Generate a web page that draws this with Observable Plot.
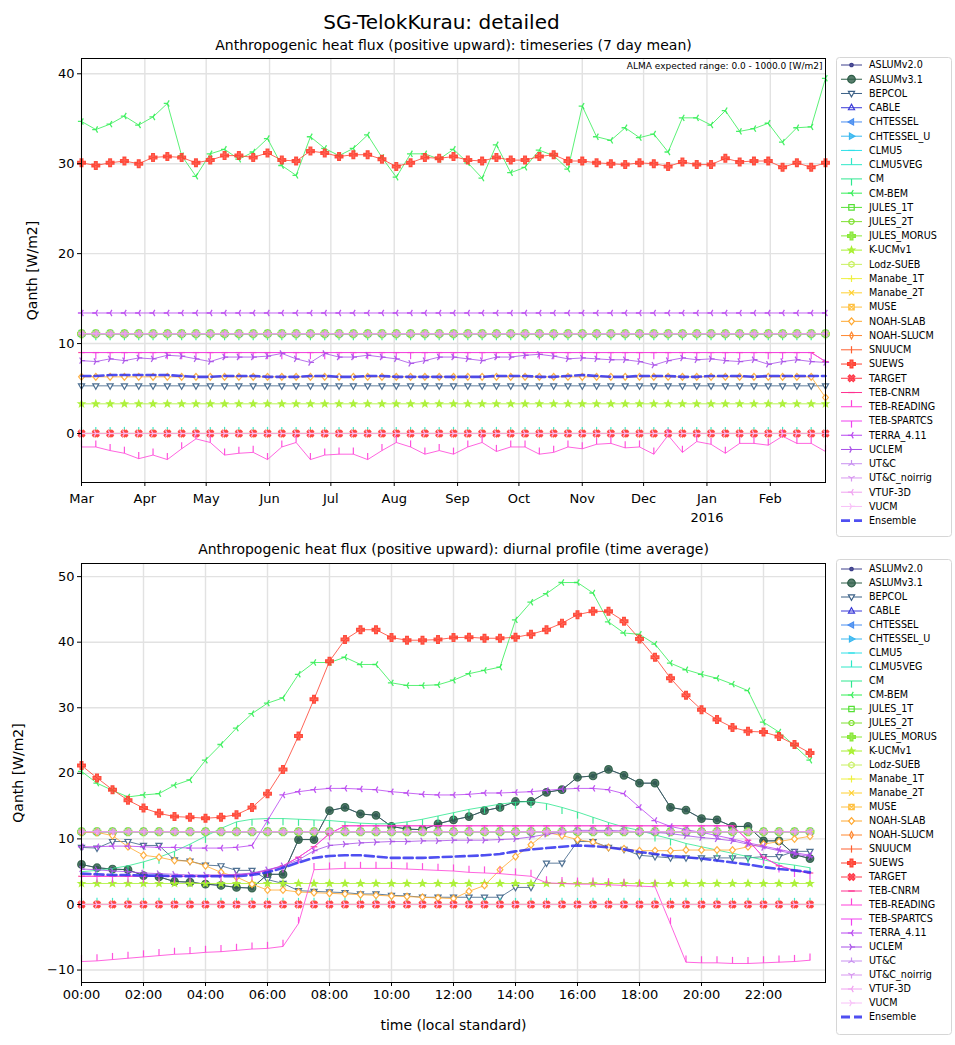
<!DOCTYPE html>
<html><head><meta charset="utf-8">
<script src="https://cdn.jsdelivr.net/npm/d3@7"></script>
<script src="https://cdn.jsdelivr.net/npm/@observablehq/plot@0.6"></script>
<style>
body{margin:0;background:#fff;font-family:"DejaVu Sans",sans-serif;}
#root{position:relative;width:955px;height:1045px;overflow:hidden;background:#fff;}
#root > *{position:absolute;}
</style></head><body><div id="root"></div>
<script>
// ---------------- DATA ----------------
const MODELS = ["ASLUMv2.0","ASLUMv3.1","BEPCOL","CABLE","CHTESSEL","CHTESSEL_U","CLMU5","CLMU5VEG","CM","CM-BEM","JULES_1T","JULES_2T","JULES_MORUS","K-UCMv1","Lodz-SUEB","Manabe_1T","Manabe_2T","MUSE","NOAH-SLAB","NOAH-SLUCM","SNUUCM","SUEWS","TARGET","TEB-CNRM","TEB-READING","TEB-SPARTCS","TERRA_4.11","UCLEM","UT&C","UT&C_noirrig","VTUF-3D","VUCM"];
const ENSEMBLE_NAME = "Ensemble";
const MONTH_LABELS = ["Mar","Apr","May","Jun","Jul","Aug","Sep","Oct","Nov","Dec","Jan\n2016","Feb"];
const TOP_YTICKS = [0,10,20,30,40];
const DIU_YTICKS = [-10,0,10,20,30,40,50];
const HOUR_TICKS = [0,2,4,6,8,10,12,14,16,18,20,22];

// constant (flat) levels per model; null = absent or varying
const TOP_LEVEL = [null,null,5.3,11.1,11.1,11.1,0,0,11.1,null,11.1,11.1,11.1,3.3,11.1,11.1,0,0,null,0,0,null,0,null,null,null,13.4,null,11.1,11.1,11.1,0];
const DIU_LEVEL = [null,null,null,11.1,11.1,11.1,0,0,null,null,11.1,11.1,11.1,3.2,11.1,11.1,0,0,null,0,0,null,0,null,null,null,null,null,11.1,11.1,11.1,0];

// weekly (7-day mean) timeseries, 53 weeks from 2015-03-01
const TOP_CM_BEM = [34.7,33.8,34.4,35.3,34.3,35.2,36.7,30.9,28.6,31.1,31.6,30.5,31.3,32.8,29.8,28.7,33.0,31.7,30.9,31.7,33.2,30.7,28.5,31.1,31.1,30.5,31.6,
  30.1,28.4,32.1,29.0,29.6,31.5,30.9,29.4,36.4,33.0,32.6,34.0,32.9,33.3,31.3,35.1,35.1,34.3,35.9,33.6,33.9,34.5,32.4,34.0,34.1,39.5];
const TOP_SUEWS = [30.1,29.8,30.1,30.3,30.0,30.7,30.8,30.7,30.1,30.4,30.9,30.9,30.7,31.2,30.4,30.3,31.4,31.2,30.8,31.0,31.0,30.5,29.7,30.1,30.7,30.6,30.8,
  30.4,30.3,30.7,30.4,30.4,30.8,31.0,30.3,30.3,30.1,30.0,29.9,30.1,30.0,29.7,30.2,29.9,29.9,30.6,30.2,30.3,30.3,29.6,30.1,29.6,30.1];
const TOP_TEB_READING = [-1.5,-1.5,-1.9,-2.2,-2.8,-2.4,-2.9,-1.7,-0.6,-1.0,-2.4,-2.2,-2.1,-2.9,-1.5,-1.0,-2.9,-2.4,-2.3,-2.3,-2.9,-1.9,-1.0,-1.5,-2.3,-1.9,-2.3,
  -1.5,-1.0,-2.0,-1.5,-1.5,-2.3,-2.1,-1.5,-1.7,-1.2,-1.1,-1.6,-1.5,-2.3,-0.2,-2.1,-0.9,-1.2,-2.2,-1.1,-1.1,-1.3,-0.3,-1.1,-1.1,-2.0];
const TOP_UCLEM = [8.1,8.0,8.3,8.1,8.4,8.3,8.7,8.6,8.3,8.0,8.5,8.5,8.5,8.6,8.9,8.3,7.9,8.9,8.5,8.5,8.7,8.5,8.3,7.8,8.1,8.5,8.5,
  8.3,8.1,8.5,8.5,8.7,8.8,8.6,8.3,8.4,8.3,8.2,8.2,8.0,7.6,8.1,8.4,8.2,8.3,8.1,8.0,8.2,7.7,8.0,8.2,8.0,7.9];
const TOP_TEB_CNRM = [9.0,9.0,9.0,9.0,9.0,9.0,9.0,9.0,9.0,9.0,9.0,9.0,9.0,9.0,9.0,9.0,9.0,9.0,9.0,9.0,9.0,9.0,9.0,9.0,9.0,9.0,9.0,
  9.0,9.0,9.0,9.0,9.0,9.0,9.0,9.0,9.0,9.0,9.0,9.0,9.0,9.0,9.0,9.0,9.0,9.0,9.0,9.0,9.0,9.0,9.0,9.0,9.0,8.0];
const TOP_NOAH_SLAB = [6.3,6.3,6.3,6.3,6.3,6.3,6.3,6.3,6.3,6.3,6.3,6.3,6.3,6.3,6.3,6.3,6.3,6.3,6.3,6.3,6.3,6.3,6.3,6.3,6.3,6.3,6.3,
  6.3,6.3,6.3,6.3,6.3,6.3,6.3,6.3,6.3,6.3,6.3,6.3,6.3,6.3,6.3,6.3,6.3,6.3,6.3,6.3,6.3,6.3,6.3,6.3,6.3,4.0];
const TOP_ENSEMBLE = [6.4,6.4,6.5,6.5,6.5,6.5,6.5,6.4,6.3,6.3,6.4,6.4,6.4,6.3,6.3,6.3,6.4,6.4,6.3,6.3,6.4,6.4,6.3,6.3,6.3,6.3,6.3,
  6.3,6.3,6.4,6.4,6.4,6.3,6.3,6.4,6.5,6.4,6.3,6.3,6.4,6.4,6.4,6.3,6.3,6.4,6.4,6.4,6.3,6.4,6.4,6.4,6.4,6.4];

// diurnal profile, 48 half-hours from 00:00
const DIU_ASLUM = [6.1,5.6,5.4,5.3,4.4,4.2,3.5,3.4,3.1,2.9,2.6,2.5,4.6,4.6,9.9,9.9,14.3,14.8,13.8,13.6,11.9,11.5,11.4,12.3,
  12.9,13.4,14.3,14.8,15.7,15.7,17.1,17.5,19.4,19.6,20.6,19.7,18.5,18.5,14.8,14.4,13.1,12.9,11.9,11.9,9.7,9.7,7.6,7.0];
const DIU_BEPCOL = [8.7,8.6,9.6,9.6,9.0,9.0,6.8,6.6,6.0,5.9,5.2,5.2,3.8,3.2,2.1,2.0,1.9,1.8,1.6,1.6,1.4,1.3,1.1,1.1,
  1.1,1.1,1.1,1.1,2.6,2.6,6.3,6.3,9.6,9.6,8.7,8.4,7.5,7.3,7.1,7.1,7.1,7.1,7.1,7.1,7.3,7.3,8.1,8.1];
const DIU_CM = [5.0,5.2,5.5,5.9,6.5,7.2,8.1,9.2,10.4,11.6,12.6,13.0,13.1,13.1,13.0,12.9,12.8,12.6,12.4,12.3,12.3,12.6,13.0,13.5,
  14.0,14.5,14.9,15.3,15.6,15.7,15.4,14.8,14.1,13.3,12.5,11.8,11.3,10.6,10.0,9.3,8.8,8.3,7.8,7.3,6.8,6.3,6.0,5.6];
const DIU_CM_BEM = [20.3,18.5,17.4,16.4,16.7,16.9,18.2,19.0,22.0,24.4,26.9,29.1,30.7,31.5,35.1,36.9,36.9,37.7,36.6,36.6,33.8,33.4,33.4,33.5,
  34.2,35.2,35.7,36.2,43.4,46.1,47.4,49.1,49.1,47.5,43.1,41.4,41.2,39.7,36.8,35.8,35.1,34.5,33.6,32.6,27.8,26.3,24.2,22.0];
const DIU_NOAH_SLAB = [11.0,11.0,10.5,8.8,7.5,7.2,6.7,6.6,5.9,4.9,4.2,3.1,2.2,2.2,1.9,1.8,1.7,1.6,1.5,1.4,1.3,1.2,1.1,1.0,
  0.9,2.0,2.9,5.3,7.3,9.1,11.0,10.5,9.9,9.5,8.7,8.5,8.2,8.2,8.2,8.3,8.3,8.3,8.3,8.8,9.2,9.6,10.0,10.4];
const DIU_SUEWS = [21.2,19.3,17.5,15.9,14.7,13.9,13.4,13.3,13.15,13.3,13.7,14.8,16.9,20.6,25.7,31.3,37.1,40.4,41.9,41.9,40.7,40.3,40.3,40.4,
  40.7,40.75,40.6,40.6,40.75,41.2,41.9,42.9,44.2,44.7,44.7,43.2,40.5,37.7,34.5,31.9,29.7,28.2,27.0,26.4,26.3,25.6,24.4,23.1];
const DIU_TEB_CNRM = [4.3,4.3,4.3,4.3,4.3,4.3,4.3,4.3,4.3,4.4,4.5,4.7,5.2,5.9,7.2,8.8,10.8,12.0,12.0,12.0,12.0,12.0,12.0,12.0,
  12.0,12.0,12.0,12.0,12.0,12.0,12.0,12.0,12.0,12.0,12.0,12.0,12.0,12.0,12.0,12.0,12.0,12.0,12.0,9.8,7.2,5.9,5.2,4.8];
const DIU_TEB_READING = [-8.7,-8.6,-8.4,-8.2,-8.0,-7.8,-7.6,-7.5,-7.3,-7.2,-7.0,-6.8,-6.7,-6.4,-2.9,5.3,5.4,5.5,5.5,5.5,5.5,5.4,5.3,5.2,
  5.1,4.9,4.8,4.7,4.5,4.3,3.3,3.2,3.1,3.1,3.0,2.9,2.8,2.7,-3.0,-8.8,-8.9,-8.9,-9.0,-9.0,-8.9,-8.8,-8.7,-8.5];
const DIU_TERRA = [8.8,8.8,8.9,8.9,8.8,8.7,8.7,8.6,8.6,8.6,8.7,9.0,12.8,16.7,17.2,17.5,17.7,17.7,17.6,17.5,17.2,17.0,16.8,16.7,
  16.7,16.8,17.0,17.0,17.1,17.2,17.4,17.6,17.7,17.7,17.5,16.9,14.8,12.8,11.9,11.4,11.0,10.5,10.0,9.4,8.9,8.4,7.9,7.5];
const DIU_UCLEM = [5.4,5.3,5.1,5.0,4.8,4.7,4.6,4.5,4.5,4.5,4.6,4.8,5.3,5.9,6.8,8.2,9.0,9.2,9.4,9.5,9.6,9.6,9.7,9.7,
  9.8,9.8,9.8,9.9,10.0,10.3,10.7,11.0,11.3,11.3,11.3,11.2,11.1,11.0,10.8,10.5,10.2,10.0,9.7,9.2,8.7,8.2,7.7,7.3];
const DIU_ENSEMBLE = [4.7,4.6,4.5,4.5,4.4,4.4,4.3,4.3,4.3,4.3,4.3,4.5,4.9,5.6,6.4,7.1,7.4,7.5,7.5,7.3,7.1,7.1,7.1,7.2,
  7.3,7.4,7.5,7.7,8.1,8.4,8.6,8.8,9.0,8.9,8.7,8.4,8.0,7.7,7.4,7.2,7.0,6.7,6.4,6.1,5.7,5.4,5.2,4.9];

// ---------------- STYLES ----------------
const COLORS = ["#3d3f8c","#2e5e48","#3b6086","#3a3ad8","#4a8ef0","#3ab8f0","#2ee0e8","#2ee8c8","#2ee890","#33ee55","#55e035","#7ee030","#88e838","#a8f030","#c8f060","#eef040","#ffd030","#ffc040","#ffa830","#ff8830","#ff6030","#ff4030","#ff3848","#ff3090","#ff40d8","#f040f0","#b844f0","#a850e8","#c890f0","#d898f0","#f0a0f0","#f8c0f8"];
const ENSEMBLE_COLOR = "#3030ee";
const MARKER = ["point","circle","triDown","triUp","triLeft","triRight","hline","tickUp","tickDown","spokeLeft","square","octagon","plusFill","star","hexagon","plus","cross","squareX","diamond","thinDiamond","vline","plusFill","xFill","hline","tickUp","tickDown","spokeLeft","spokeRight","spokeUp","spokeDown","spokeLeft","spokeRight"];
const FILLMODE = ["solid","solid","white","none","solid","solid","none","none","none","none","none","none","solid","solid","none","none","none","none","white","none","none","solid","solid","none","none","none","none","none","none","none","none","none"];

function mk(f){return {draw(c,size){const r=Math.sqrt(size/Math.PI); f(c,r);}};}
function poly(c,p){c.moveTo(p[0][0],p[0][1]);for(let i=1;i<p.length;i++)c.lineTo(p[i][0],p[i][1]);c.closePath();}
function spokes(c,p){for(const q of p){c.moveTo(0,0);c.lineTo(q[0],q[1]);}}
const SYM = {
  point: mk((c,r)=>{const q=r*0.5;c.moveTo(q,0);c.arc(0,0,q,0,2*Math.PI);}),
  circle: mk((c,r)=>{c.moveTo(r,0);c.arc(0,0,r,0,2*Math.PI);}),
  triDown: mk((c,r)=>poly(c,[[0,r],[-0.9*r,-0.6*r],[0.9*r,-0.6*r]])),
  triUp: mk((c,r)=>poly(c,[[0,-r],[-0.9*r,0.6*r],[0.9*r,0.6*r]])),
  triLeft: mk((c,r)=>poly(c,[[-r,0],[0.6*r,-0.9*r],[0.6*r,0.9*r]])),
  triRight: mk((c,r)=>poly(c,[[r,0],[-0.6*r,-0.9*r],[-0.6*r,0.9*r]])),
  hline: mk((c,r)=>{c.moveTo(-r,0);c.lineTo(r,0);}),
  vline: mk((c,r)=>{c.moveTo(0,-r);c.lineTo(0,r);}),
  tickUp: mk((c,r)=>{c.moveTo(0,0);c.lineTo(0,-2*r);}),
  tickDown: mk((c,r)=>{c.moveTo(0,0);c.lineTo(0,2*r);}),
  spokeLeft: mk((c,r)=>spokes(c,[[-r,0],[0.5*r,-0.87*r],[0.5*r,0.87*r]])),
  spokeRight: mk((c,r)=>spokes(c,[[r,0],[-0.5*r,-0.87*r],[-0.5*r,0.87*r]])),
  spokeUp: mk((c,r)=>spokes(c,[[0,-r],[-0.87*r,0.5*r],[0.87*r,0.5*r]])),
  spokeDown: mk((c,r)=>spokes(c,[[0,r],[-0.87*r,-0.5*r],[0.87*r,-0.5*r]])),
  square: mk((c,r)=>{const q=r*0.8;c.rect(-q,-q,2*q,2*q);}),
  squareX: mk((c,r)=>{const q=r*0.8;c.rect(-q,-q,2*q,2*q);c.moveTo(-q,-q);c.lineTo(q,q);c.moveTo(q,-q);c.lineTo(-q,q);}),
  octagon: mk((c,r)=>poly(c,d3.range(8).map(i=>{const a=Math.PI/8+i*Math.PI/4;return [r*0.9*Math.cos(a),r*0.9*Math.sin(a)];}))),
  hexagon: mk((c,r)=>poly(c,d3.range(6).map(i=>{const a=-Math.PI/2+i*Math.PI/3;return [r*Math.cos(a),r*Math.sin(a)];}))),
  star: mk((c,r)=>poly(c,d3.range(10).map(i=>{const a=-Math.PI/2+i*Math.PI/5, q=i%2?0.42*r:r;return [q*Math.cos(a),q*Math.sin(a)];}))),
  plusFill: mk((c,r)=>{const w=0.36*r;poly(c,[[-w,-r],[w,-r],[w,-w],[r,-w],[r,w],[w,w],[w,r],[-w,r],[-w,w],[-r,w],[-r,-w],[-w,-w]]);}),
  xFill: mk((c,r)=>{const w=0.3*r,s=Math.SQRT1_2;const pts=[[-w,-r],[w,-r],[w,-w],[r,-w],[r,w],[w,w],[w,r],[-w,r],[-w,w],[-r,w],[-r,-w],[-w,-w]].map(([x,y])=>[(x-y)*s,(x+y)*s]);poly(c,pts);}),
  plus: mk((c,r)=>{c.moveTo(-r,0);c.lineTo(r,0);c.moveTo(0,-r);c.lineTo(0,r);}),
  cross: mk((c,r)=>{const q=r*0.75;c.moveTo(-q,-q);c.lineTo(q,q);c.moveTo(q,-q);c.lineTo(-q,q);}),
  diamond: mk((c,r)=>poly(c,[[0,-r],[r*0.85,0],[0,r],[-r*0.85,0]])),
  thinDiamond: mk((c,r)=>poly(c,[[0,-r],[r*0.55,0],[0,r],[-r*0.55,0]]))
};
const RADIUS = {point:3.4,circle:3.8,spokeLeft:3.6,spokeRight:3.6,spokeUp:3.6,spokeDown:3.6,tickUp:3.3,tickDown:3.3,hline:3.3,vline:3.6,plusFill:3.9,octagon:3.0,hexagon:3.0,xFill:3.6};
function fillOf(k){const f=FILLMODE[k];return f==="solid"?COLORS[k]:f==="white"?"white":"none";}

function modelMarks(rows,k){
  const m=MARKER[k];
  return [
    Plot.line(rows,{x:"x",y:"y",stroke:COLORS[k],strokeWidth:0.9,strokeOpacity:0.9}),
    Plot.dot(rows,{x:"x",y:"y",symbol:SYM[m],r:RADIUS[m]||3.4,stroke:COLORS[k],strokeWidth:m.startsWith("spoke")?1.3:1.2,fill:fillOf(k),fillOpacity:FILLMODE[k]==="solid"?0.8:1,strokeOpacity:0.9})
  ];
}

// ---------------- TOP PANEL ----------------
const WEEK0 = Date.UTC(2015,2,1);
const WEEKS = d3.range(TOP_SUEWS.length).map(i=>new Date(WEEK0+i*7*864e5));
const MONTHS = d3.utcMonths(new Date(Date.UTC(2015,2,1)), new Date(Date.UTC(2016,1,2)));
const TOP_SERIES = new Map([[9,TOP_CM_BEM],[18,TOP_NOAH_SLAB],[21,TOP_SUEWS],[23,TOP_TEB_CNRM],[24,TOP_TEB_READING],[25,TOP_TEB_CNRM],[27,TOP_UCLEM]]);
const DIU_SERIES = new Map([[0,DIU_ASLUM],[1,DIU_ASLUM],[2,DIU_BEPCOL],[8,DIU_CM],[9,DIU_CM_BEM],[18,DIU_NOAH_SLAB],[21,DIU_SUEWS],[23,DIU_TEB_CNRM],[24,DIU_TEB_READING],[25,DIU_TEB_CNRM],[26,DIU_TERRA],[27,DIU_UCLEM]]);

function rowsFor(k,xs,series,levels){
  if(series.has(k)) return series.get(k).map((v,i)=>({x:xs[i],y:v}));
  if(levels[k]!=null) return xs.map(x=>({x,y:levels[k]}));
  return null;
}
const minusFmt = d => d<0 ? "\u2212"+Math.abs(d) : String(d);
const gridStyle = {stroke:"#e2e2e2",strokeOpacity:1,strokeWidth:1.4};

function panelMarks(xs,series,levels,ensemble){
  const out=[];
  MODELS.forEach((name,k)=>{const rows=rowsFor(k,xs,series,levels); if(rows) out.push(...modelMarks(rows,k));});
  out.push(Plot.line(ensemble.map((v,i)=>({x:xs[i],y:v})),{x:"x",y:"y",stroke:ENSEMBLE_COLOR,strokeWidth:2.6,strokeDasharray:"9,4",strokeOpacity:0.85}));
  return out;
}

const topPlot = Plot.plot({
  width:830, height:525, marginLeft:81, marginRight:5, marginTop:58, marginBottom:43,
  style:{fontFamily:"DejaVu Sans, sans-serif",fontSize:"13px",background:"transparent",overflow:"visible"},
  x:{type:"utc",domain:[WEEKS[0],WEEKS[WEEKS.length-1]],label:null},
  y:{domain:[-5.45,41.7],label:null},
  marks:[
    Plot.gridX(MONTHS,gridStyle),
    Plot.gridY(TOP_YTICKS,gridStyle),
    ...panelMarks(WEEKS,TOP_SERIES,TOP_LEVEL,TOP_ENSEMBLE),
    Plot.frame({stroke:"#000",strokeWidth:1}),
    Plot.axisX(MONTHS,{tickFormat:(d,i)=>MONTH_LABELS[i],tickSize:4,tickPadding:3,fontSize:13,label:null,lineHeight:1.45}),
    Plot.axisY(TOP_YTICKS,{tickFormat:minusFmt,tickSize:4,tickPadding:3,fontSize:13,label:null}),
    Plot.text(["SG-TelokKurau: detailed"],{text:d=>d,frameAnchor:"top",dy:-36,dx:-12,fontSize:20,lineAnchor:"middle"}),
    Plot.text(["Anthropogenic heat flux (positive upward): timeseries (7 day mean)"],{text:d=>d,frameAnchor:"top",dy:-13,fontSize:14,lineAnchor:"middle"}),
    Plot.text(["ALMA expected range: 0.0 - 1000.0 [W/m2]"],{text:d=>d,frameAnchor:"top-right",dx:-3,dy:8,fontSize:9,textAnchor:"end",lineAnchor:"middle"}),
    Plot.text(["Qanth [W/m2]"],{text:d=>d,frameAnchor:"left",dx:-49,rotate:-90,fontSize:14,lineAnchor:"middle",textAnchor:"middle"})
  ]
});
topPlot.style.left="0px"; topPlot.style.top="0px";

// ---------------- BOTTOM PANEL ----------------
const HOURS = d3.range(DIU_SUEWS.length).map(i=>i*0.5);
const hourFmt = h => String(h).padStart(2,"0")+":00";
const botPlot = Plot.plot({
  width:830, height:520, marginLeft:81, marginRight:5, marginTop:38, marginBottom:63,
  style:{fontFamily:"DejaVu Sans, sans-serif",fontSize:"13px",background:"transparent",overflow:"visible"},
  x:{domain:[0,24],label:null},
  y:{domain:[-11.9,52],label:null},
  marks:[
    Plot.gridX(HOUR_TICKS,gridStyle),
    Plot.gridY(DIU_YTICKS,gridStyle),
    ...panelMarks(HOURS,DIU_SERIES,DIU_LEVEL,DIU_ENSEMBLE),
    Plot.frame({stroke:"#000",strokeWidth:1}),
    Plot.axisX(HOUR_TICKS,{tickFormat:hourFmt,tickSize:4,tickPadding:3,fontSize:13,label:null}),
    Plot.axisY(DIU_YTICKS,{tickFormat:minusFmt,tickSize:4,tickPadding:3,fontSize:13,label:null}),
    Plot.text(["Anthropogenic heat flux (positive upward): diurnal profile (time average)"],{text:d=>d,frameAnchor:"top",dy:-14,fontSize:14,lineAnchor:"middle"}),
    Plot.text(["time (local standard)"],{text:d=>d,frameAnchor:"bottom",dy:43,fontSize:14,lineAnchor:"middle"}),
    Plot.text(["Qanth [W/m2]"],{text:d=>d,frameAnchor:"left",dx:-63,rotate:-90,fontSize:14,lineAnchor:"middle",textAnchor:"middle"})
  ]
});
botPlot.style.left="0px"; botPlot.style.top="525px";

// ---------------- LEGENDS ----------------
function legend(left,top,height,firstY,step){
  const svg=d3.create("svg").attr("width",119).attr("height",height)
    .style("left",left+"px").style("top",top+"px").style("font-family","DejaVu Sans, sans-serif");
  svg.append("rect").attr("x",1.5).attr("y",1.5).attr("width",115).attr("height",height-3).attr("rx",3)
    .attr("fill","white").attr("stroke","#d6d6d6").attr("stroke-width",1);
  MODELS.forEach((name,k)=>{
    const y=firstY+k*step, m=MARKER[k];
    svg.append("line").attr("x1",6).attr("x2",27).attr("y1",y).attr("y2",y).attr("stroke",COLORS[k]).attr("stroke-width",1);
    const p=d3.path(); const r=RADIUS[m]||3.4; SYM[m].draw(p,r*r*Math.PI);
    svg.append("path").attr("d",p.toString()).attr("transform",`translate(16.5,${y})`)
      .attr("stroke",COLORS[k]).attr("stroke-width",1.2).attr("fill",fillOf(k)).attr("fill-opacity",FILLMODE[k]==="solid"?0.8:1);
    svg.append("text").attr("x",34).attr("y",y).attr("dy","0.35em").attr("font-size",9.6).attr("fill","#000").text(name);
  });
  const y=firstY+MODELS.length*step;
  svg.append("line").attr("x1",6).attr("x2",27).attr("y1",y).attr("y2",y).attr("stroke",ENSEMBLE_COLOR).attr("stroke-width",2.8).attr("stroke-dasharray","9,4").attr("stroke-opacity",0.85);
  svg.append("text").attr("x",34).attr("y",y).attr("dy","0.35em").attr("font-size",9.6).text(ENSEMBLE_NAME);
  return svg.node();
}

const root=document.getElementById("root");
root.append(topPlot, botPlot, legend(835,56,482,9,14.24), legend(835,558,478,11,14.0));
</script></body></html>
